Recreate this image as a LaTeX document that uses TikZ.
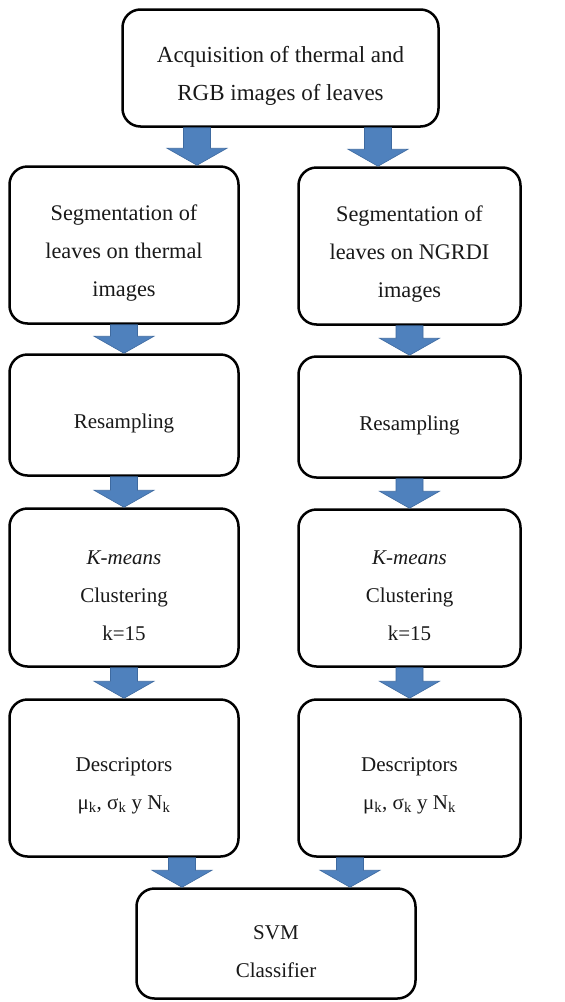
\documentclass[tikz,border=0pt]{standalone}
\usepackage{fontspec}
\setmainfont{Liberation Serif}
\usetikzlibrary{calc}
\definecolor{arrowblue}{RGB}{79,129,189}
\definecolor{arrowedge}{RGB}{62,106,160}
\definecolor{textgray}{RGB}{25,25,25}
\tikzset{
  box/.style={draw=black, line width=2.5pt, rounded corners=18pt, fill=white, inner sep=0pt},
  txt/.style={font=\fontsize{21}{38}\selectfont, align=center, inner sep=0pt, text=textgray},
  txtsize/.style={font=\fontsize{#1}{38}\selectfont},
  barrow/.style={fill=arrowblue, draw=arrowedge, line width=0.6pt, line join=miter}
}
\newcommand\blockarrow[2]{%
  \path[barrow] ($(#1)+(-13.5,0)$) -- ($(#1)+(13.5,0)$) -- ($(#2)+(13.5,-17)$) -- ($(#2)+(30,-17)$) -- (#2) -- ($(#2)+(-30,-17)$) -- ($(#2)+(-13.5,-17)$) -- cycle;%
}
\begin{document}
\begin{tikzpicture}[x=1pt, y=-1pt]
\useasboundingbox (0,0) rectangle (565,1002);
\fill[white] (0,0) rectangle (565,1002);

% boxes
\node[box, minimum width=316pt, minimum height=117pt] (top) at (280.5,68) {};
\node[txt, txtsize=23] (top-t) at ([yshift=-8pt]top.center) {Acquisition of thermal and\\RGB images of leaves};

\node[box, minimum width=229pt, minimum height=157pt] (seg1) at (124,245) {};
\node[txt, txtsize=22.3] (seg1-t) at ([yshift=-8pt]seg1.center) {Segmentation of\\leaves on thermal\\images};
\node[box, minimum width=222pt, minimum height=157pt] (seg2) at (409.5,246) {};
\node[txt, txtsize=22.3] (seg2-t) at ([yshift=-8pt]seg2.center) {Segmentation of\\leaves on NGRDI\\images};

\node[box, minimum width=229pt, minimum height=121pt] (res1) at (124,415) {};
\node[txt] (res1-t) at ([yshift=-8pt]res1.center) {Resampling};
\node[box, minimum width=222pt, minimum height=121pt] (res2) at (409.5,417) {};
\node[txt] (res2-t) at ([yshift=-8pt]res2.center) {Resampling};

\node[box, minimum width=229pt, minimum height=158pt] (km1) at (124,587.5) {};
\node[txt] (km1-t) at ([yshift=-8pt]km1.center) {\textit{K-means}\\Clustering\\k=15};
\node[box, minimum width=222pt, minimum height=157pt] (km2) at (409.5,588) {};
\node[txt] (km2-t) at ([yshift=-8pt]km2.center) {\textit{K-means}\\Clustering\\k=15};

\node[box, minimum width=229pt, minimum height=157pt] (desc1) at (124,778) {};
\node[txt] (desc1-t) at ([yshift=-8pt]desc1.center) {Descriptors\\μ\textsubscript{k}, σ\textsubscript{k} y N\textsubscript{k}};
\node[box, minimum width=222pt, minimum height=157pt] (desc2) at (409.5,778) {};
\node[txt] (desc2-t) at ([yshift=-8pt]desc2.center) {Descriptors\\μ\textsubscript{k}, σ\textsubscript{k} y N\textsubscript{k}};

\node[box, minimum width=279pt, minimum height=110pt] (svm) at (276,943.5) {};
\node[txt] (svm-t) at ([yshift=-8pt]svm.center) {SVM\\Classifier};

% arrow x positions
\coordinate (ta1) at (197,0);
\coordinate (ta2) at (378,0);
\coordinate (ba1) at (182,0);
\coordinate (ba2) at (350,0);

% arrows
\blockarrow{top.south -| ta1}{seg1.north -| ta1}
\blockarrow{top.south -| ta2}{seg2.north -| ta2}
\blockarrow{seg1.south}{res1.north}
\blockarrow{seg2.south}{res2.north}
\blockarrow{res1.south}{km1.north}
\blockarrow{res2.south}{km2.north}
\blockarrow{km1.south}{desc1.north}
\blockarrow{km2.south}{desc2.north}
\blockarrow{desc1.south -| ba1}{svm.north -| ba1}
\blockarrow{desc2.south -| ba2}{svm.north -| ba2}
\end{tikzpicture}
\end{document}
